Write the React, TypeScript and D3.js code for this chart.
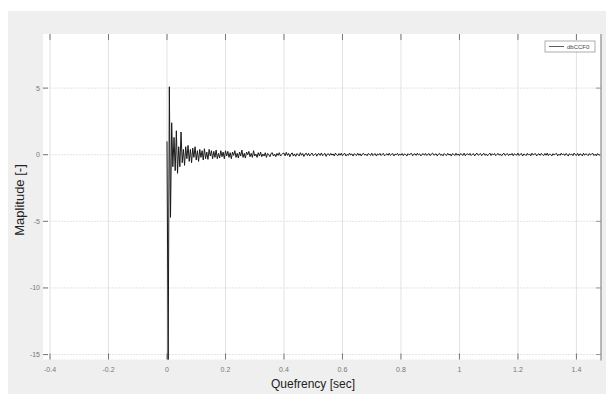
import React from "react";
import * as d3 from "d3";

// Sampling step of the cepstrum (sec)
const sampleStep = 0.004;

// Cepstrum amplitude values, one row = 10 samples (0.04 s)
const amplitudes: number[] = [
  1.0, -15.6, 5.1, -4.7, 2.4, -0.9, 1.3, -1.2, 1.8, -1.4,
  0.6, -0.9, 1.7, -0.6, 0.4, -0.8, 0.6, -0.3, 0.7, -0.5,
  0.4, -0.6, 0.5, -0.2, 0.6, -0.4, 0.3, -0.5, 0.4, -0.2,
  0.3, -0.4, 0.45, -0.3, 0.2, -0.35, 0.4, -0.1, 0.3, -0.3,
  0.25, -0.2, 0.35, -0.3, 0.1, -0.25, 0.3, -0.15, 0.2, -0.3,
  0.3, -0.1, 0.25, -0.2, 0.15, -0.3, 0.2, -0.05, 0.3, -0.2,
  0.1, -0.25, 0.2, -0.1, 0.35, -0.2, 0.1, -0.25, 0.2, 0.0,
  0.25, -0.15, 0.1, -0.2, 0.3, -0.1, 0.05, -0.2, 0.15, -0.1,
  0.2, -0.15, 0.05, -0.1, 0.15, -0.2, 0.1, 0.0, -0.15, 0.1,
  0.15, -0.1, 0.05, -0.15, 0.1, -0.05, 0.15, -0.1, 0.0, 0.1,
  0.12, -0.08, 0.18, -0.05, 0.1, -0.15, 0.05, 0.14, -0.1, 0.06,
  -0.12, 0.08, 0.02, -0.1, 0.15, -0.04, 0.09, -0.13, 0.04, 0.11,
  -0.06, 0.1, -0.09, 0.03, 0.12, -0.07, 0.0, 0.09, -0.11, 0.05,
  0.08, -0.05, 0.13, -0.08, 0.02, 0.1, -0.12, 0.04, 0.07, -0.06,
  0.1, -0.03, 0.06, -0.1, 0.12, 0.0, -0.08, 0.09, -0.04, 0.11,
  -0.07, 0.05, 0.1, -0.09, 0.03, -0.05, 0.12, -0.02, 0.06, -0.1,
  0.08, 0.01, -0.06, 0.11, -0.04, 0.07, -0.09, 0.05, 0.1, -0.03,
  0.04, -0.08, 0.09, 0.02, -0.05, 0.12, -0.07, 0.03, 0.08, -0.1,
  0.06, -0.02, 0.1, -0.06, 0.04, 0.09, -0.08, 0.01, 0.07, -0.04,
  0.11, -0.05, 0.03, 0.08, -0.09, 0.05, 0.0, 0.1, -0.06, 0.04,
  -0.03, 0.09, -0.07, 0.06, 0.02, -0.1, 0.08, -0.01, 0.05, 0.1,
  -0.08, 0.04, 0.07, -0.05, 0.11, -0.02, 0.06, -0.09, 0.03, 0.08,
  -0.04, 0.1, -0.06, 0.02, 0.09, -0.07, 0.05, 0.12, -0.03, 0.01,
  0.07, -0.09, 0.04, 0.1, -0.05, 0.03, -0.08, 0.09, 0.0, -0.06,
  0.1, -0.02, 0.05, -0.1, 0.08, 0.03, -0.06, 0.11, -0.04, 0.06,
  -0.07, 0.09, 0.01, -0.05, 0.12, -0.08, 0.04, 0.07, -0.03, 0.1,
  -0.06, 0.03, 0.08, -0.09, 0.05, 0.11, -0.04, 0.02, 0.09, -0.07,
  0.04, 0.1, -0.05, 0.06, -0.08, 0.03, 0.12, -0.06, 0.07, -0.02,
  0.09, -0.07, 0.02, 0.1, -0.04, 0.06, -0.09, 0.04, 0.11, -0.05,
  0.03, 0.08, -0.06, 0.05, -0.02, 0.1, -0.08, 0.07, 0.01, -0.04,
  0.12, -0.06, 0.04, 0.09, -0.1, 0.05, 0.02, -0.07, 0.1, -0.03,
  0.06, -0.08, 0.11, -0.02, 0.04, 0.08, -0.09, 0.03, 0.07, -0.05,
  0.1, 0.0, -0.06, 0.09, -0.04, 0.12, -0.07, 0.05, 0.02, -0.09,
  0.08, -0.03, 0.06, 0.1, -0.08, 0.04, -0.05, 0.11, -0.02, 0.07,
  -0.06, 0.09, 0.03, -0.1, 0.08, -0.01, 0.05, -0.07, 0.12, 0.0,
  -0.05, 0.1, -0.08, 0.06, 0.03, -0.09, 0.11, -0.04, 0.07, 0.02,
  -0.07, 0.09, -0.03, 0.05, 0.1, -0.06, 0.04, -0.08, 0.08, 0.01,
  -0.04,
];

const xTicks = [-0.4, -0.2, 0, 0.2, 0.4, 0.6, 0.8, 1, 1.2, 1.4];
const xTickLabels = ["-0.4", "-0.2", "0", "0.2", "0.4", "0.6", "0.8", "1", "1.2", "1.4"];
const yTicks = [5, 0, -5, -10, -15];
const yTickLabels = ["5", "0", "-5", "-10", "-15"];
const xDomain: [number, number] = [-0.424, 1.484];
const yDomain: [number, number] = [-15.37, 9.06];
const legendLabel = "dbCCF0";
const xLabel = "Quefrency [sec]";
const yLabel = "Maplitude [-]";

export default function App() {
  const W = 606, H = 394;
  const L = 43, R = 601, T = 34, B = 359.5;
  const x = d3.scaleLinear().domain(xDomain).range([L, R]);
  const y = d3.scaleLinear().domain(yDomain).range([B, T]);
  const pts: [number, number][] = amplitudes.map((v, i) => [i * sampleStep, v]);
  const line = d3.line<[number, number]>().x(d => x(d[0])).y(d => y(d[1]));
  const font = "Arial, 'Liberation Sans', sans-serif";

  return (
    <svg width={W} height={H} style={{ position: "absolute", left: 0, top: 0 }}>
      <defs>
        <clipPath id="plotclip">
          <rect x={L} y={T} width={R - L} height={B - T} />
        </clipPath>
      </defs>
      <rect x={8} y={11} width={W - 8} height={H - 11} fill="#efefef" />
      <rect x={L} y={T} width={R - L} height={B - T} fill="#ffffff" />
      {/* grid */}
      {xTicks.map((t, i) => (
        <line key={"gx" + i} x1={x(t)} x2={x(t)} y1={T} y2={B} stroke="#e3e3e3" strokeWidth={1} />
      ))}
      {yTicks.map((t, i) => (
        <line key={"gy" + i} x1={L} x2={R} y1={y(t)} y2={y(t)} stroke="#dcdcdc" strokeWidth={0.8} strokeDasharray="2,1" />
      ))}
      {/* ticks */}
      {xTicks.map((t, i) => (
        <g key={"tx" + i}>
          <line x1={x(t)} x2={x(t)} y1={B} y2={B - 6} stroke="#777" strokeWidth={1} />
          <line x1={x(t)} x2={x(t)} y1={T} y2={T + 6} stroke="#777" strokeWidth={1} />
          <text x={x(t)} y={372} fontSize={7} fill="#777" textAnchor="middle" fontFamily={font}>{xTickLabels[i]}</text>
        </g>
      ))}
      {yTicks.map((t, i) => (
        <g key={"ty" + i}>
          <line x1={L} x2={L + 5} y1={y(t)} y2={y(t)} stroke="#777" strokeWidth={1} />
          <line x1={R} x2={R - 5} y1={y(t)} y2={y(t)} stroke="#999" strokeWidth={1} />
          <text x={40} y={y(t) + 2.5} fontSize={7} fill="#777" textAnchor="end" fontFamily={font}>{yTickLabels[i]}</text>
        </g>
      ))}
      <line x1={R} x2={R} y1={T} y2={B + 1} stroke="#8a8a8a" strokeWidth={1.2} />
      {/* data */}
      <path d={line(pts) || ""} fill="none" stroke="#1a1a1a" strokeWidth={1} clipPath="url(#plotclip)" />
      {/* legend */}
      <rect x={545} y={41} width={50} height={11} fill="#fff" stroke="#999" strokeWidth={0.8} />
      <line x1={549} x2={564} y1={46.5} y2={46.5} stroke="#333" strokeWidth={0.8} />
      <text x={567} y={49} fontSize={6} fill="#444" fontFamily={font}>{legendLabel}</text>
      {/* axis labels */}
      <text x={313} y={388} fontSize={12} fill="#222" textAnchor="middle" fontFamily={font}>{xLabel}</text>
      <text transform={`translate(24,200) rotate(-90)`} fontSize={13} fill="#222" textAnchor="middle" fontFamily={font}>{yLabel}</text>
    </svg>
  );
}
